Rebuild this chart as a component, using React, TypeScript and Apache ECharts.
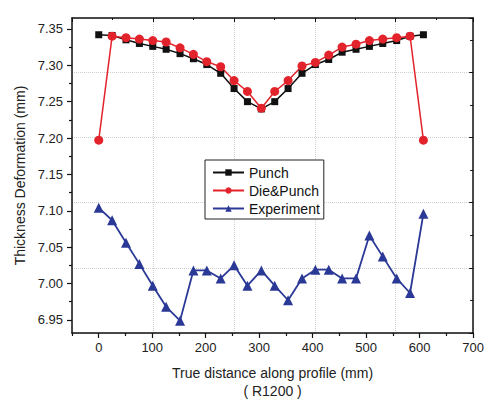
import React, { useEffect, useRef } from "react";
import * as echarts from "echarts";

const xs = [0, 25, 51, 76, 101, 126, 152, 177, 202, 228, 253, 278, 304, 329, 354, 380, 405, 430, 455, 481, 506, 531, 557, 582, 607];
const punch = [7.342, 7.341, 7.335, 7.330, 7.326, 7.322, 7.316, 7.309, 7.301, 7.289, 7.268, 7.250, 7.240, 7.250, 7.268, 7.289, 7.301, 7.308, 7.318, 7.322, 7.326, 7.330, 7.334, 7.340, 7.342];
const diePunch = [7.197, 7.340, 7.338, 7.336, 7.334, 7.332, 7.324, 7.315, 7.305, 7.298, 7.279, 7.264, 7.241, 7.264, 7.279, 7.299, 7.304, 7.314, 7.325, 7.329, 7.334, 7.336, 7.338, 7.340, 7.197];
const experiment = [7.104, 7.087, 7.056, 7.027, 6.997, 6.968, 6.949, 7.018, 7.018, 7.007, 7.025, 6.997, 7.018, 6.997, 6.977, 7.007, 7.019, 7.019, 7.007, 7.007, 7.066, 7.037, 7.007, 6.987, 7.096];

const xLabels = [0, 100, 200, 300, 400, 500, 600, 700];
const xMinorTicks = [-50, 50, 150, 250, 350, 450, 550, 650];
const yLabels = [6.95, 7.0, 7.05, 7.1, 7.15, 7.2, 7.25, 7.3, 7.35];
const yMinorTicks = [6.975, 7.025, 7.075, 7.125, 7.175, 7.225, 7.275, 7.325];

const FONT = "'Liberation Sans', Arial, sans-serif";

export default function App() {
  const ref = useRef<HTMLDivElement>(null);
  useEffect(() => {
    document.body.style.margin = "0";
    const chart = echarts.init(ref.current!, null, { renderer: "svg" });
    const pairs = (ys: number[]) => xs.map((x, i) => [x, ys[i]]);
    const hidden = { show: false };
    chart.setOption({
      animation: false,
      backgroundColor: "#fff",
      textStyle: { fontFamily: FONT },
      grid: { left: 72, right: 12, top: 18, bottom: 67, containLabel: false },
      legend: {
        orient: "vertical",
        left: 205,
        top: 160,
        padding: [5, 4, 3, 7],
        itemGap: 3,
        itemWidth: 31,
        itemHeight: 8,
        borderColor: "#222",
        borderWidth: 1,
        backgroundColor: "#fff",
        textStyle: { fontFamily: FONT, fontSize: 14, color: "#111", lineHeight: 15 },
        data: ["Punch", "Die&Punch", "Experiment"],
      },
      xAxis: [
        {
          type: "value",
          position: "bottom",
          min: -50,
          max: 700,
          name: "True distance along profile (mm)\n( R1200 )",
          nameLocation: "middle",
          nameGap: 31,
          nameTextStyle: { fontFamily: FONT, fontSize: 14, color: "#222", lineHeight: 18 },
          axisLine: { show: true, onZero: false, lineStyle: { color: "#111", width: 1.5 } },
          axisTick: { show: true, inside: false, length: 5, customValues: xLabels, lineStyle: { color: "#111", width: 1.2 } },
          axisLabel: { show: true, customValues: xLabels, margin: 8, fontSize: 13, color: "#222", fontFamily: FONT },
          splitLine: hidden,
        },
        {
          type: "value",
          position: "bottom",
          min: -50,
          max: 700,
          axisLine: { show: false, onZero: false },
          axisTick: { show: true, inside: false, length: 3, customValues: xMinorTicks, lineStyle: { color: "#111", width: 1.2 } },
          axisLabel: hidden,
          splitLine: hidden,
        },
        {
          type: "value",
          position: "top",
          min: 0,
          max: 4.957,
          interval: 1,
          axisLine: { show: true, onZero: false, lineStyle: { color: "#111", width: 1.5 } },
          axisTick: { show: true, inside: true, length: 4, lineStyle: { color: "#111" } },
          minorTick: { show: true, splitNumber: 2, length: 2, lineStyle: { color: "#111" } },
          axisLabel: hidden,
          splitLine: { show: true, lineStyle: { color: "#cfcfcf", type: "dotted", width: 1 } },
        },
      ],
      yAxis: [
        {
          type: "value",
          position: "left",
          min: 6.932,
          max: 7.365,
          name: "Thickness Deformation (mm)",
          nameLocation: "middle",
          nameGap: 44,
          nameTextStyle: { fontFamily: FONT, fontSize: 14, color: "#222" },
          axisLine: { show: true, onZero: false, lineStyle: { color: "#111", width: 1.5 } },
          axisTick: { show: true, inside: false, length: 5, customValues: yLabels, lineStyle: { color: "#111", width: 1.2 } },
          axisLabel: {
            show: true,
            customValues: yLabels,
            margin: 9,
            fontSize: 13,
            color: "#222",
            fontFamily: FONT,
            formatter: (v: number) => v.toFixed(2),
          },
          splitLine: hidden,
        },
        {
          type: "value",
          position: "left",
          min: 6.932,
          max: 7.365,
          axisLine: { show: false, onZero: false },
          axisTick: { show: true, inside: false, length: 3, customValues: yMinorTicks, lineStyle: { color: "#111", width: 1.2 } },
          axisLabel: hidden,
          splitLine: hidden,
        },
        {
          type: "value",
          position: "right",
          min: 0,
          max: 9.67,
          interval: 2,
          axisLine: { show: true, onZero: false, lineStyle: { color: "#111", width: 1.5 } },
          axisTick: { show: true, inside: true, length: 4, lineStyle: { color: "#111" } },
          minorTick: { show: true, splitNumber: 2, length: 3, lineStyle: { color: "#111" } },
          axisLabel: hidden,
          splitLine: { show: true, lineStyle: { color: "#cfcfcf", type: "dotted", width: 1 } },
        },
      ],
      series: [
        {
          name: "Punch",
          type: "line",
          xAxisIndex: 0,
          yAxisIndex: 0,
          data: pairs(punch),
          symbol: "rect",
          symbolSize: 7,
          color: "#111111",
          lineStyle: { color: "#111111", width: 1.5 },
          itemStyle: { color: "#111111" },
        },
        {
          name: "Die&Punch",
          type: "line",
          xAxisIndex: 0,
          yAxisIndex: 0,
          data: pairs(diePunch),
          symbol: "circle",
          symbolSize: 9,
          color: "#e3232b",
          lineStyle: { color: "#e3232b", width: 1.5 },
          itemStyle: { color: "#e3232b" },
        },
        {
          name: "Experiment",
          type: "line",
          xAxisIndex: 0,
          yAxisIndex: 0,
          data: pairs(experiment),
          symbol: "triangle",
          symbolSize: 10,
          color: "#2a3896",
          lineStyle: { color: "#2a3896", width: 1.8 },
          itemStyle: { color: "#2a3896" },
        },
      ],
    });
    return () => chart.dispose();
  }, []);
  return <div ref={ref} style={{ width: 487, height: 405 }} />;
}
